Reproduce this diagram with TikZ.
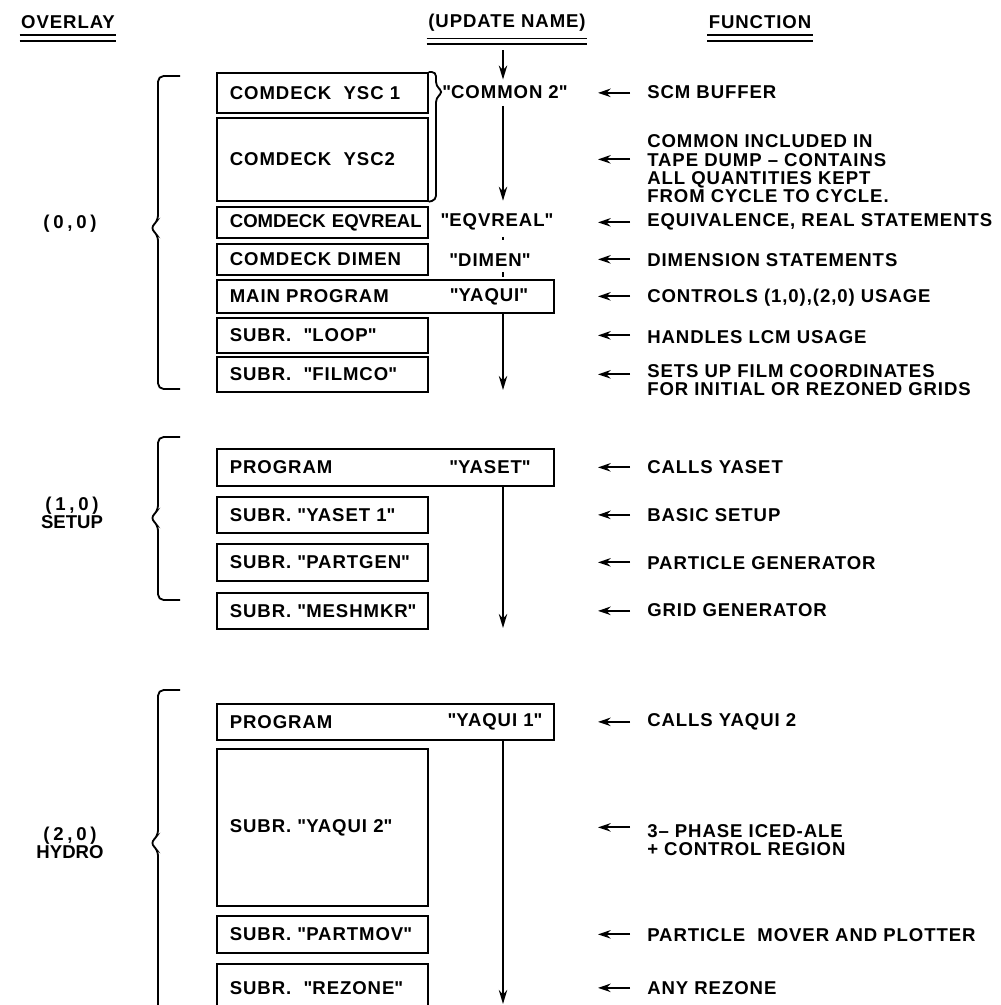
\documentclass[tikz,border=0pt]{standalone}
\usepackage{fontspec}
\setmainfont{Liberation Sans}[LetterSpace=5]
\usetikzlibrary{positioning,arrows.meta}
\newcommand{\qt}[1]{\textquotedbl#1\textquotedbl}

\begin{document}
\begin{tikzpicture}[x=0.025cm,y=-0.025cm,
  font={\bfseries\fontsize{13.2}{13}\selectfont},
  box/.style={draw,line width=1.2pt,anchor=north west,inner xsep=0.325cm,inner ysep=0pt,
              text width=4.625cm,align=left},
  wide/.style={box,text width=7.775cm},
  upd/.style={inner sep=2pt},
  hdr/.style={inner sep=1pt},
  ovl/.style={align=center,font={\bfseries\fontsize{13.2}{11.8}\selectfont}},
  fn/.style={anchor=west,inner sep=0pt,align=left},
  flow/.style={-{Stealth[length=10pt,width=6pt]},line width=1.1pt},
  fnarr/.style={-{Stealth[length=9pt,width=6pt]},line width=1.6pt},
  tick/.style={line width=1.1pt},
  brk/.style={line width=1.3pt,rounded corners=4pt},
  uline/.style={line width=1pt}
]
\useasboundingbox (0,0) rectangle (1000,1005);
\clip (0,0) rectangle (1000,1005);

\node[hdr] (ovl) at (68,22) {OVERLAY};
\node[hdr] (upd) at (507,23) {(UPDATE NAME)};
\node[hdr] (fun) at (760,22) {FUNCTION};
\foreach \h in {ovl,upd,fun}{
  \draw[uline] ([yshift=-3.5pt]\h.south west) -- ([yshift=-3.5pt]\h.south east);
  \draw[uline] ([yshift=-7.5pt]\h.south west) -- ([yshift=-7.5pt]\h.south east);
}

\node[box,minimum height=1cm] (ysc1) at (216,72) {COMDECK~~YSC~1};
\node[box,minimum height=2.075cm] (ysc2) at (216,117) {COMDECK~~YSC2};
\node[box,minimum height=0.775cm] (eqv) at (216,206) {\addfontfeature{LetterSpace=0}COMDECK~EQVREAL};
\node[box,minimum height=0.775cm] (dimen) at (216,243) {COMDECK~DIMEN};
\node[wide,minimum height=0.825cm] (main) at (216,279) {MAIN~PROGRAM};
\node[box,minimum height=0.875cm] (loop) at (216,317) {SUBR.~~\qt{LOOP}};
\node[box,minimum height=0.875cm] (filmco) at (216,356) {SUBR.~~\qt{FILMCO}};

\node[wide,minimum height=0.925cm] (yaset) at (216,448) {PROGRAM};
\node[box,minimum height=0.9cm] (yaset1) at (216,496) {SUBR.~\qt{YASET~1}};
\node[box,minimum height=0.925cm] (partgen) at (216,543) {SUBR.~\qt{PARTGEN}};
\node[box,minimum height=0.9cm] (meshmkr) at (216,592) {SUBR.~\qt{MESHMKR}};

\node[wide,minimum height=0.9cm] (yaqui1) at (216,703) {PROGRAM};
\node[box,minimum height=3.925cm] (yaqui2) at (216,748) {SUBR.~\qt{YAQUI~2}};
\node[box,minimum height=0.925cm] (partmov) at (216,915) {SUBR.~\qt{PARTMOV}};
\node[box,minimum height=1.2cm] (rezone) at (216,963) {SUBR.~~\qt{REZONE}};

\node[upd] (com2) at (505,92) {\qt{COMMON 2}};
\node[upd] (n-eqv) at (497,222) {\qt{EQVREAL}};
\node[upd] (n-dimen) at (490,260) {\qt{DIMEN}};
\node[upd] (n-yaqui) at (489,297) {\qt{YAQUI}};
\node[upd] (n-yaset) at (490,467) {\qt{YASET}};
\node[upd] (n-yaqui1) at (495,722) {\qt{YAQUI 1}};

\coordinate (colx) at (503,0);
\coordinate (end0) at (503,390);
\coordinate (end1) at (503,628);
\coordinate (end2) at (503,1004);

\draw[flow,shorten <=12pt,shorten >=2pt] (upd.south -| colx) -- (com2.north -| colx);
\draw[flow,shorten <=3pt,shorten >=7pt] (com2.south -| colx) -- (n-eqv.north -| colx);
\draw[tick,shorten <=2.5pt,shorten >=7.5pt] (n-eqv.south -| colx) -- (n-dimen.north -| colx);
\draw[tick,shorten <=1.8pt,shorten >=1.4pt] (n-dimen.south -| colx) -- (main.north -| colx);
\draw[flow] (main.south -| end0) -- (end0);
\draw[flow] (yaset.south -| end1) -- (end1);
\draw[flow] (yaqui1.south -| end2) -- (end2);

\draw[brk,rounded corners=3pt] (ysc1.north east) -- (436,72) -- (436,86) -- (443,92) -- (436,98) -- (436,200) -- (ysc2.south east);

\draw[brk] (180,76) -- (158,76) -- (158,221) -- (150,228) -- (158,235) -- (158,389) -- (180,389);
\draw[brk] (180,437) -- (158,437) -- (158,511) -- (150,518) -- (158,525) -- (158,600) -- (180,600);
\draw[brk] (180,690) -- (158,690) -- (158,836) -- (150,843) -- (158,850) -- (158,1030);

\node[ovl] (o0) at (70,224) {\addfontfeature{LetterSpace=20}(0,0)};
\node[ovl] (o1) at (72,513) {\addfontfeature{LetterSpace=20}(1,0)\\\addfontfeature{LetterSpace=0}SETUP};
\node[ovl] (o2) at (70,843) {\addfontfeature{LetterSpace=20}(2,0)\\\addfontfeature{LetterSpace=0}HYDRO};

\coordinate (ftail) at (630,0);
\coordinate (fhead) at (598,0);
\foreach \b in {ysc1,ysc2,eqv,dimen,main,loop,filmco,yaset,yaset1,partgen,meshmkr,yaqui1,yaqui2,partmov,rezone}
  \draw[fnarr] (ftail |- \b.east) -- (fhead |- \b.east);

\node[fn] (f-scm) at (647,92) {SCM BUFFER};
\node[fn] (f-common) at (647,169) {COMMON INCLUDED IN\\TAPE DUMP \textendash{} CONTAINS\\ALL QUANTITIES KEPT\\FROM CYCLE TO CYCLE.};
\node[fn] (f-eqv) at (647,222) {EQUIVALENCE, REAL STATEMENTS};
\node[fn] (f-dim) at (647,260) {DIMENSION STATEMENTS};
\node[fn] (f-main) at (647,298) {CONTROLS (1,0),(2,0) USAGE};
\node[fn] (f-loop) at (647,337) {HANDLES LCM USAGE};
\node[fn] (f-film) at (647,380) {SETS UP FILM COORDINATES\\FOR INITIAL OR REZONED GRIDS};
\node[fn] (f-yaset) at (647,467) {CALLS YASET};
\node[fn] (f-basic) at (647,515) {BASIC SETUP};
\node[fn] (f-pgen) at (647,563) {PARTICLE GENERATOR};
\node[fn] (f-grid) at (647,610) {GRID GENERATOR};
\node[fn] (f-yaqui1) at (647,722) {CALLS YAQUI 2};
\node[fn] (f-phase) at (647,840) {3\textendash{} PHASE ICED-ALE\\+ CONTROL REGION};
\node[fn] (f-pmov) at (647,935) {PARTICLE~~MOVER AND PLOTTER};
\node[fn] (f-rez) at (647,988) {ANY REZONE};
\end{tikzpicture}
\end{document}
